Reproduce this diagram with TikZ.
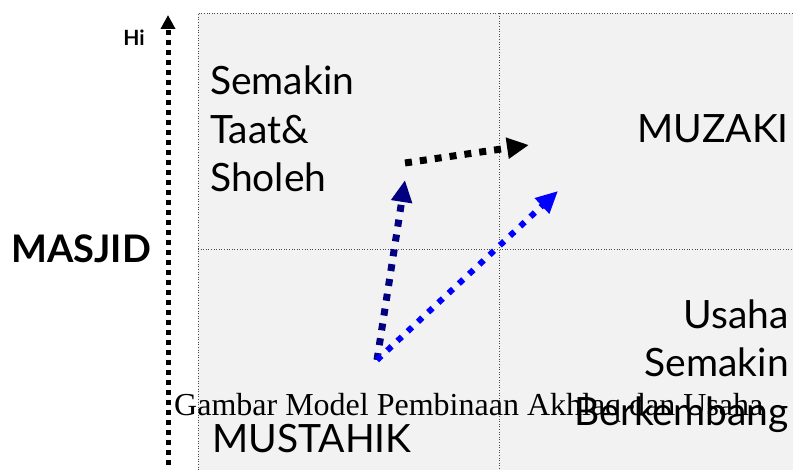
\documentclass[tikz,border=0pt]{standalone}
\usepackage{fontspec}
\setmainfont{Liberation Serif}
\newfontfamily\hand{Lato}
\newfontfamily\boldsans{Lato Bold}
\usetikzlibrary{arrows.meta}
\definecolor{panel}{HTML}{F2F2F2}
\definecolor{navyc}{HTML}{000080}
\definecolor{bluec}{HTML}{0000FF}
\tikzset{
  handtxt/.style={inner sep=0pt, font=\hand\fontsize{39}{48.5}\selectfont},
  gridline/.style={draw=black!70, line width=0.6pt, dotted},
  dotarrow/.style={line width=7pt, dash pattern=on 7pt off 8pt, -{Triangle[length=22pt,width=20pt]}},
}
\begin{document}
\begin{tikzpicture}[x=1pt,y=-1pt]
\useasboundingbox (0,0) rectangle (793,470);
% panel
\fill[panel] (198,13) rectangle (800,480);
\draw[gridline] (800,13) -- (198,13) -- (198,480);
\draw[gridline] (499,13) -- (499,480);
\draw[gridline] (198,249) -- (800,249);
% axis
\coordinate (axb) at (168,475);
\coordinate (axt) at (168,15);
\draw[line width=5pt, dash pattern=on 5pt off 5pt, -{Triangle[length=14pt,width=14pt]}] (axb) -- (axt);
\node[inner sep=0pt, anchor=base east, font=\boldsans\fontsize{21}{24}\selectfont] (hi) at (145,46) {Hi};
\node[inner sep=0pt, anchor=base west, font=\boldsans\fontsize{38}{48}\selectfont] (masjid) at (11,263) {MASJID};
% quadrant texts
\node[handtxt, anchor=base west, align=left] (taat) at (210,192) {Semakin\\Taat\&\\Sholeh};
\node[handtxt, anchor=base east] (muzaki) at (789,143) {MUZAKI};
\node[handtxt, anchor=base east, align=right] (usaha) at (789,425) {Usaha\\Semakin\\Berkembang};
\node[handtxt, anchor=base west] (mustahik) at (212,452) {MUSTAHIK};
% arrows
\coordinate (o) at (377,360);
\coordinate (nt) at (405,180);
\coordinate (ks) at (405,163);
\coordinate (kt) at (529,145);
\coordinate (bt) at (558,191);
\draw[dotarrow, navyc] (o) -- (nt);
\draw[dotarrow, bluec, line width=6pt, dash pattern=on 6pt off 8pt] (o) -- (bt);
\draw[dotarrow, black] (ks) -- (kt);
% caption
\node[inner sep=0pt, anchor=base west, font=\fontsize{32}{40}\selectfont] (cap) at (174,415) {Gambar Model Pembinaan Akhlaq dan Usaha};
\end{tikzpicture}
\end{document}
